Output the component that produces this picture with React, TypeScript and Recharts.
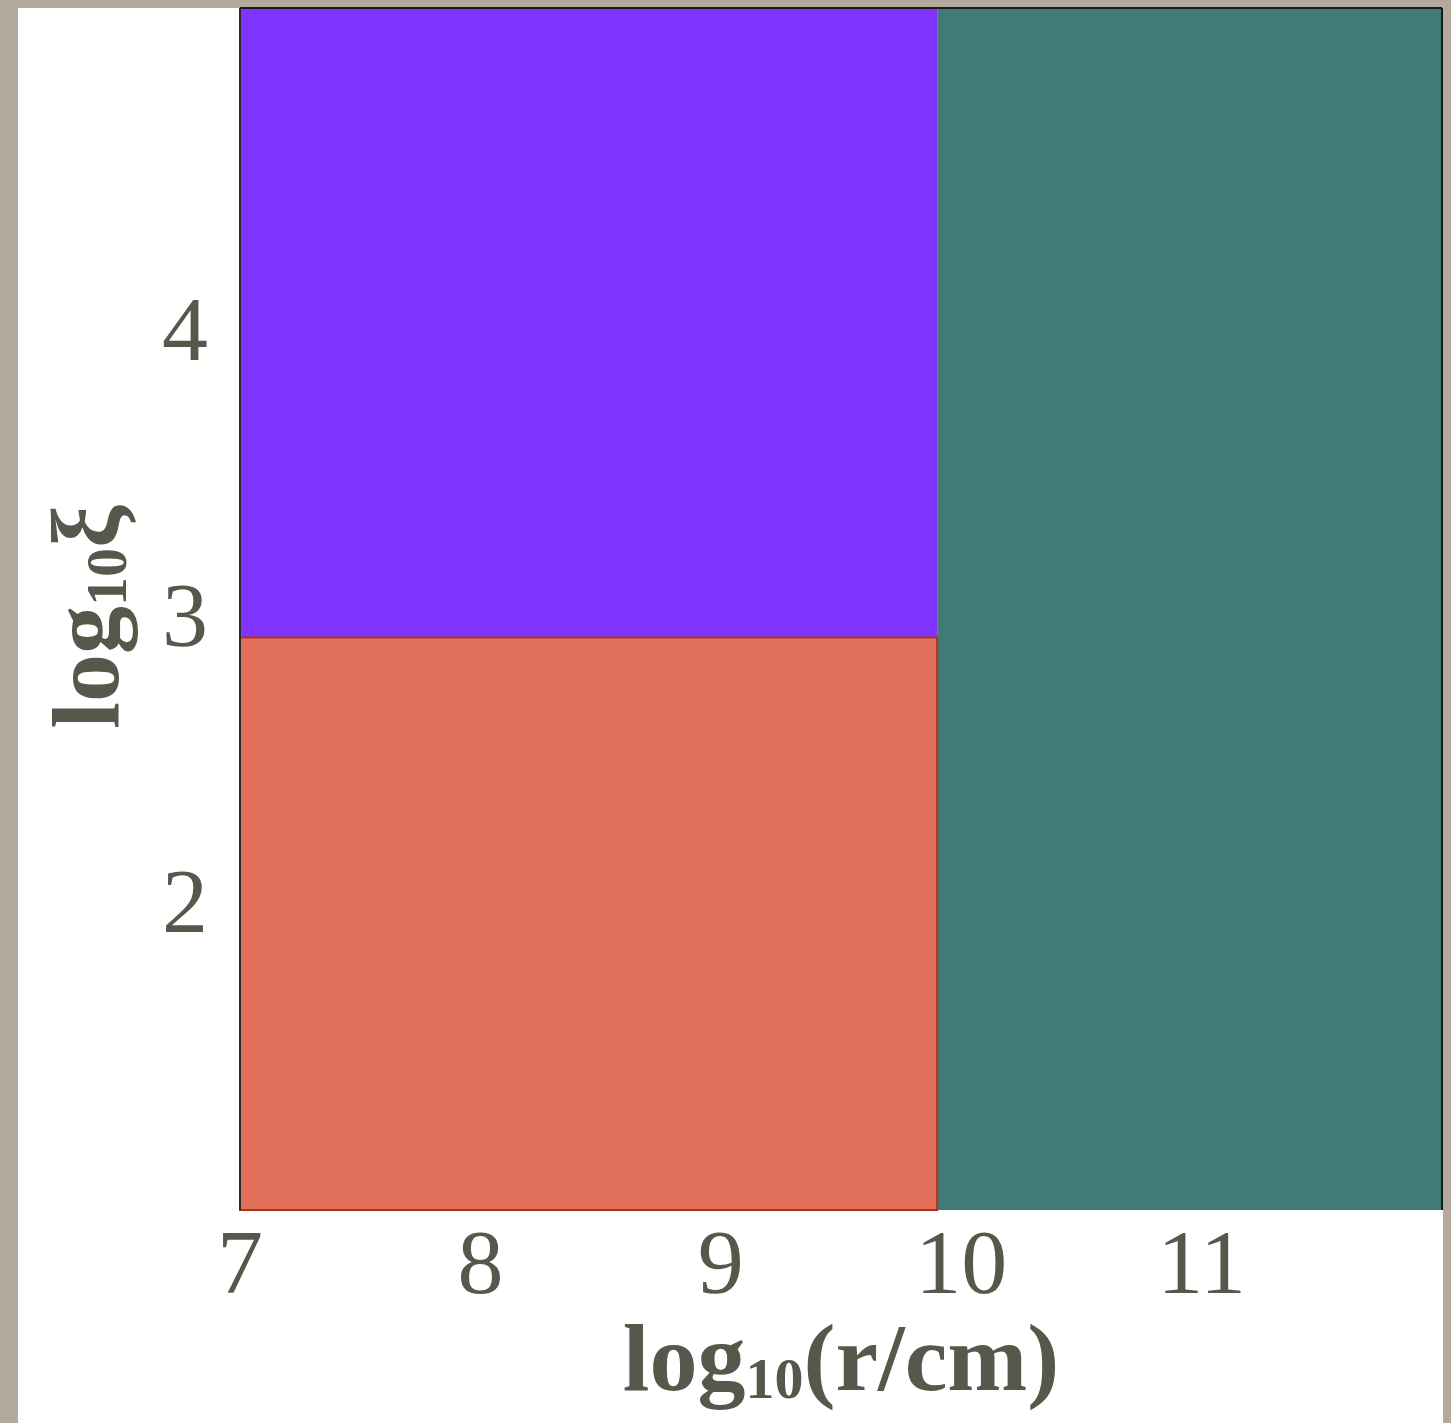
import React from 'react';
import {
  ComposedChart,
  XAxis,
  YAxis,
  ReferenceArea,
  ReferenceLine,
  Label,
} from 'recharts';

// regions of the (r, xi) plane
const regionNames = ['upper', 'outer', 'lower'];
const regionX1 = [7, 9.9, 7];
const regionX2 = [9.9, 12, 9.9];
const regionY1 = [3, 1, 1];
const regionY2 = [5.2, 5.2, 3];
const regionColors = ['#8033ff', '#427a77', '#e2705a'];
const regionStrokes = ['none', 'none', '#a8321c'];

const xDomain: [number, number] = [7, 12];
const yDomain: [number, number] = [1, 5.2];
const xTicks = [7, 8, 9, 10, 11];
const yTicks = [2, 3, 4];

const FONT = '"Liberation Serif", "DejaVu Serif", serif';
const INK = '#57584b';

const XTitle = (props: any) => {
  const { x, y, width } = props.viewBox;
  return (
    <text
      x={x + width / 2}
      y={y + 180}
      textAnchor="middle"
      fontFamily={FONT}
      fontWeight="bold"
      fontSize={96}
      fill={INK}
    >
      log
      <tspan fontSize={58} dy={8}>10</tspan>
      <tspan dy={-8}>(r/cm)</tspan>
    </text>
  );
};

const YTitle = (props: any) => {
  const { y, height } = props.viewBox;
  const cx = 118;
  const cy = y + height / 2 + 8;
  return (
    <text
      x={cx}
      y={cy}
      transform={`rotate(-90, ${cx}, ${cy})`}
      textAnchor="middle"
      fontFamily={FONT}
      fontWeight="bold"
      fontSize={96}
      fill={INK}
    >
      log
      <tspan fontSize={58} dy={8}>10</tspan>
      <tspan dy={-8}>ξ</tspan>
    </text>
  );
};

const App: React.FC = () => {
  return (
    <div
      style={{
        position: 'absolute',
        left: 0,
        top: 0,
        width: 1451,
        height: 1423,
        background: '#b3a99c',
        overflow: 'hidden',
      }}
    >
      {/* white sheet */}
      <div
        style={{
          position: 'absolute',
          left: 18,
          top: 8,
          width: 1425,
          height: 1415,
          background: '#ffffff',
        }}
      />
      <div style={{ position: 'absolute', left: 0, top: 0 }}>
        <ComposedChart
          width={1451}
          height={1423}
          data={[]}
          margin={{ top: 8, right: 9, left: 0, bottom: 0 }}
        >
          <XAxis
            type="number"
            dataKey="x"
            domain={xDomain}
            ticks={xTicks}
            allowDataOverflow
            height={213}
            axisLine={false}
            tickLine={false}
            tickSize={0}
            tickMargin={18}
            tick={{ fontFamily: FONT, fontSize: 92, fill: INK }}
          >
            <Label content={XTitle} />
          </XAxis>
          <YAxis
            type="number"
            dataKey="y"
            domain={yDomain}
            ticks={yTicks}
            allowDataOverflow
            width={240}
            axisLine={false}
            tickLine={false}
            tickSize={0}
            tickMargin={32}
            tick={{ fontFamily: FONT, fontSize: 92, fill: INK, dy: -24 }}
          >
            <Label content={YTitle} />
          </YAxis>
          {regionNames.map((name, i) => (
            <ReferenceArea
              key={name}
              x1={regionX1[i]}
              x2={regionX2[i]}
              y1={regionY1[i]}
              y2={regionY2[i]}
              fill={regionColors[i]}
              fillOpacity={1}
              stroke={regionStrokes[i]}
              strokeWidth={2}
            />
          ))}
          {/* plot frame */}
          <ReferenceLine x={xDomain[0]} stroke="#2a2a2a" strokeWidth={2} />
          <ReferenceLine x={xDomain[1]} stroke="#1a1a1a" strokeWidth={2} />
          <ReferenceLine y={yDomain[1]} stroke="#1a1a1a" strokeWidth={2} />
        </ComposedChart>
      </div>
    </div>
  );
};

export default App;
